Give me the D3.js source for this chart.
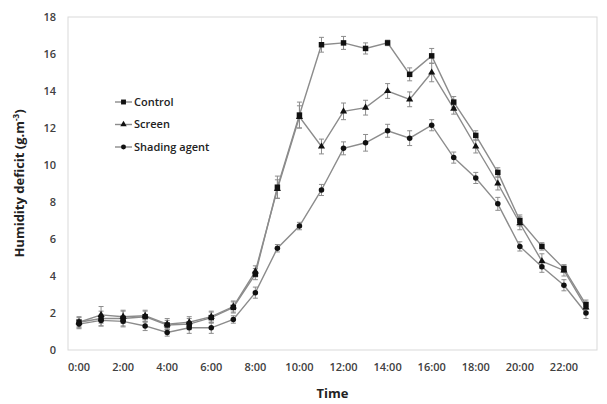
<!DOCTYPE html>
<html>
<head>
<meta charset="utf-8">
<script src="https://cdn.jsdelivr.net/npm/d3@7"></script>
<style>
  body { margin: 0; background: #fff; }
  text { font-family: "Open Sans", sans-serif; }
</style>
</head>
<body>
<svg id="chart" width="607" height="404"></svg>
<script>
const hours = d3.range(0, 24)
const hourLabels = hours.map(h => h + ':00')

const control = [1.5, 1.7, 1.7, 1.8, 1.35, 1.4, 1.75, 2.3, 4.1, 8.8, 12.7, 16.5, 16.6, 16.3, 16.6, 14.9, 15.9, 13.4, 11.6, 9.6, 7.0, 5.6, 4.4, 2.45]
const controlErr = [0.25, 0.4, 0.4, 0.3, 0.25, 0.3, 0.3, 0.3, 0.3, 0.6, 0.7, 0.4, 0.35, 0.3, 0.15, 0.35, 0.4, 0.3, 0.25, 0.25, 0.3, 0.2, 0.2, 0.25]
const screen = [1.5, 1.9, 1.8, 1.85, 1.4, 1.5, 1.8, 2.35, 4.25, 8.7, 12.6, 11.0, 12.9, 13.1, 14.0, 13.55, 15.0, 13.05, 11.0, 9.0, 6.85, 4.8, 4.3, 2.3]
const screenErr = [0.3, 0.45, 0.35, 0.3, 0.3, 0.3, 0.3, 0.3, 0.3, 0.5, 0.6, 0.4, 0.45, 0.4, 0.4, 0.4, 0.5, 0.3, 0.35, 0.35, 0.35, 0.4, 0.3, 0.3]
const shading = [1.4, 1.6, 1.55, 1.3, 0.95, 1.2, 1.2, 1.65, 3.1, 5.5, 6.7, 8.65, 10.9, 11.2, 11.85, 11.45, 12.15, 10.4, 9.3, 7.9, 5.6, 4.5, 3.5, 2.0]
const shadingErr = [0.25, 0.3, 0.3, 0.25, 0.2, 0.3, 0.3, 0.2, 0.3, 0.2, 0.2, 0.3, 0.35, 0.45, 0.35, 0.4, 0.3, 0.3, 0.3, 0.35, 0.25, 0.3, 0.3, 0.3]

const seriesNames = ['Control', 'Screen', 'Shading agent']
const yTicks = [0, 2, 4, 6, 8, 10, 12, 14, 16, 18]

const series = [
  { name: seriesNames[0], values: control, err: controlErr, symbol: d3.symbolSquare, size: 30 },
  { name: seriesNames[1], values: screen, err: screenErr, symbol: d3.symbolTriangle, size: 22 },
  { name: seriesNames[2], values: shading, err: shadingErr, symbol: d3.symbolCircle, size: 24 }
]

const svg = d3.select('#chart')
const margin = { left: 68, top: 17, right: 10, bottom: 54 }
const width = 607 - margin.left - margin.right
const height = 404 - margin.top - margin.bottom

const g = svg.append('g').attr('transform', `translate(${margin.left},${margin.top})`)

const x = d3.scaleBand()
  .domain(hours)
  .range([0, width])

const y = d3.scaleLinear()
  .domain([0, 18])
  .range([height, 0])

const cx = h => x(h) + x.bandwidth() / 2

// plot area border
g.append('rect')
  .attr('width', width)
  .attr('height', height)
  .attr('fill', 'none')
  .attr('stroke', '#d9d9d9')
  .attr('stroke-width', 1)

// y axis
const yAxis = g.append('g')
  .call(d3.axisLeft(y).tickValues(yTicks).tickSize(0).tickPadding(12))
yAxis.select('.domain').remove()
yAxis.selectAll('text')
  .attr('font-size', '11px')
  .attr('font-weight', 600)
  .attr('fill', '#404040')

// x axis
const xAxis = g.append('g')
  .attr('transform', `translate(0,${height})`)
  .call(d3.axisBottom(x).tickValues(hours.filter(h => h % 2 === 0)).tickFormat(h => hourLabels[h]).tickSize(0).tickPadding(13))
xAxis.select('.domain').remove()
xAxis.selectAll('text')
  .attr('font-size', '11px')
  .attr('font-weight', 600)
  .attr('fill', '#404040')

// axis titles
const yTitle = svg.append('text')
  .attr('transform', `translate(24,${margin.top + height / 2})rotate(-90)`)
  .attr('text-anchor', 'middle')
  .attr('font-size', '13px')
  .attr('font-weight', 700)
  .attr('fill', '#222')
yTitle.append('tspan').text('Humidity deficit (g.m')
yTitle.append('tspan').attr('dy', '-5').attr('font-size', '8px').text('-3')
yTitle.append('tspan').attr('dy', '5').text(')')

svg.append('text')
  .attr('x', margin.left + width / 2)
  .attr('y', 398)
  .attr('text-anchor', 'middle')
  .attr('font-size', '13px')
  .attr('font-weight', 700)
  .attr('fill', '#222')
  .text('Time')

const line = d3.line()
  .x((d, i) => cx(hours[i]))
  .y(d => y(d))

series.forEach(s => {
  g.append('path')
    .datum(s.values)
    .attr('fill', 'none')
    .attr('stroke', '#8c8c8c')
    .attr('stroke-width', 1.4)
    .attr('d', line)
})

// error bars
series.forEach(s => {
  const eb = g.append('g').attr('stroke', '#8c8c8c').attr('stroke-width', 1)
  s.values.forEach((v, i) => {
    const px = cx(hours[i])
    const y0 = y(v - s.err[i]), y1 = y(v + s.err[i])
    eb.append('line').attr('x1', px).attr('x2', px).attr('y1', y0).attr('y2', y1)
    eb.append('line').attr('x1', px - 2.5).attr('x2', px + 2.5).attr('y1', y0).attr('y2', y0)
    eb.append('line').attr('x1', px - 2.5).attr('x2', px + 2.5).attr('y1', y1).attr('y2', y1)
  })
})

// markers
series.forEach(s => {
  g.append('g').selectAll('path')
    .data(s.values)
    .enter()
    .append('path')
      .attr('d', d3.symbol().type(s.symbol).size(s.size))
      .attr('transform', (d, i) => `translate(${cx(hours[i])},${y(d)})`)
      .attr('fill', '#111')
})

// legend
const legend = svg.append('g')
series.forEach((s, i) => {
  const ly = 102 + i * 22.5
  legend.append('line')
    .attr('x1', 115).attr('x2', 132)
    .attr('y1', ly).attr('y2', ly)
    .attr('stroke', '#8c8c8c').attr('stroke-width', 1.4)
  legend.append('path')
    .attr('d', d3.symbol().type(s.symbol).size(s.size * 0.8))
    .attr('transform', `translate(123.5,${ly})`)
    .attr('fill', '#111')
  legend.append('text')
    .attr('x', 134)
    .attr('y', ly)
    .attr('dy', '0.35em')
    .attr('font-size', '11px')
    .attr('font-weight', 600)
    .attr('fill', '#222')
    .text(s.name)
})
</script>
</body>
</html>
